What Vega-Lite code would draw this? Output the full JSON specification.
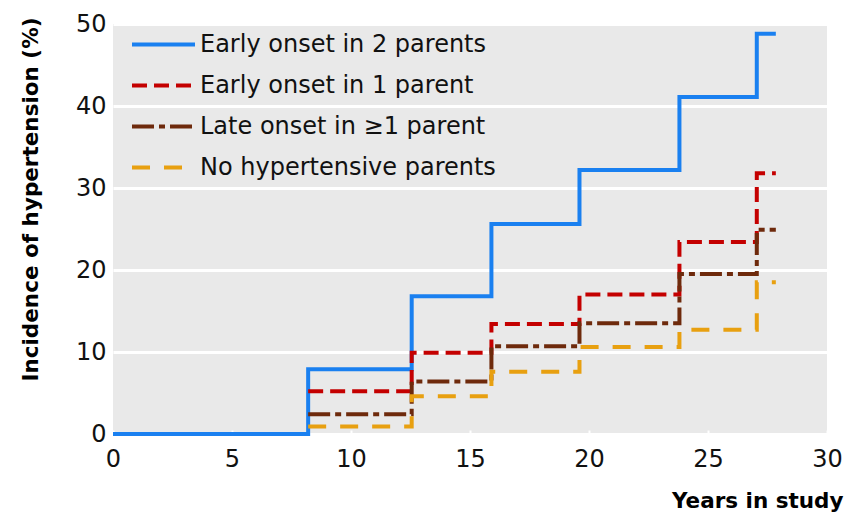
{
  "$schema": "https://vega.github.io/schema/vega-lite/v6.json",
  "width": 714,
  "height": 410,
  "autosize": "none",
  "padding": {"left": 113, "top": 24, "right": 30, "bottom": 82},
  "background": "white",
  "config": {
    "font": "DejaVu Sans",
    "view": {"fill": "#e9e9e9", "stroke": null}
  },
  "data": {
    "values": [
      {"group": "Early onset in 2 parents", "years": 0, "incidence": 0},
      {"group": "Early onset in 2 parents", "years": 8.2, "incidence": 7.9},
      {"group": "Early onset in 2 parents", "years": 12.55, "incidence": 16.8},
      {"group": "Early onset in 2 parents", "years": 15.9, "incidence": 25.6},
      {"group": "Early onset in 2 parents", "years": 19.6, "incidence": 32.2},
      {"group": "Early onset in 2 parents", "years": 23.8, "incidence": 41.1},
      {"group": "Early onset in 2 parents", "years": 27.05, "incidence": 48.8},
      {"group": "Early onset in 2 parents", "years": 27.85, "incidence": 48.8},
      {"group": "Early onset in 1 parent", "years": 8.2, "incidence": 5.2},
      {"group": "Early onset in 1 parent", "years": 12.55, "incidence": 9.9},
      {"group": "Early onset in 1 parent", "years": 15.9, "incidence": 13.4},
      {"group": "Early onset in 1 parent", "years": 19.6, "incidence": 17.0},
      {"group": "Early onset in 1 parent", "years": 23.8, "incidence": 23.4},
      {"group": "Early onset in 1 parent", "years": 27.05, "incidence": 31.8},
      {"group": "Early onset in 1 parent", "years": 27.85, "incidence": 31.8},
      {"group": "Late onset in ≥1 parent", "years": 8.2, "incidence": 2.4},
      {"group": "Late onset in ≥1 parent", "years": 12.55, "incidence": 6.4},
      {"group": "Late onset in ≥1 parent", "years": 15.9, "incidence": 10.7},
      {"group": "Late onset in ≥1 parent", "years": 19.6, "incidence": 13.5},
      {"group": "Late onset in ≥1 parent", "years": 23.8, "incidence": 19.5},
      {"group": "Late onset in ≥1 parent", "years": 27.05, "incidence": 24.9},
      {"group": "Late onset in ≥1 parent", "years": 27.85, "incidence": 24.9},
      {"group": "No hypertensive parents", "years": 8.2, "incidence": 0.9},
      {"group": "No hypertensive parents", "years": 12.55, "incidence": 4.6},
      {"group": "No hypertensive parents", "years": 15.9, "incidence": 7.6},
      {"group": "No hypertensive parents", "years": 19.6, "incidence": 10.6},
      {"group": "No hypertensive parents", "years": 23.8, "incidence": 12.7},
      {"group": "No hypertensive parents", "years": 27.05, "incidence": 18.5},
      {"group": "No hypertensive parents", "years": 27.85, "incidence": 18.5}
    ]
  },
  "mark": {"type": "line", "interpolate": "step-after", "strokeWidth": 4, "strokeCap": "butt"},
  "encoding": {
    "x": {
      "field": "years",
      "type": "quantitative",
      "scale": {"domain": [0, 30], "nice": false},
      "axis": {
        "values": [0, 5, 10, 15, 20, 25, 30],
        "grid": false,
        "domain": false,
        "tickColor": "white",
        "tickSize": -4,
        "tickWidth": 2,
        "labelFontSize": 24,
        "labelColor": "#111",
        "labelPadding": 17,
        "labelFlush": false,
        "title": "Years in study",
        "titleFontSize": 21.5,
        "titleFontWeight": "bold",
        "titleColor": "#000",
        "titleAlign": "right",
        "titleAnchor": null,
        "titleX": 730,
        "titleY": 73,
        "titleBaseline": "alphabetic"
      }
    },
    "y": {
      "field": "incidence",
      "type": "quantitative",
      "scale": {"domain": [0, 50], "nice": false},
      "axis": {
        "values": [0, 10, 20, 30, 40, 50],
        "grid": true,
        "gridColor": "white",
        "gridWidth": 3,
        "gridOpacity": 1,
        "domain": false,
        "ticks": false,
        "labelFontSize": 24,
        "labelColor": "#111",
        "labelPadding": 7,
        "title": "Incidence of hypertension (%)",
        "titleFontSize": 21.5,
        "titleFontWeight": "bold",
        "titleColor": "#000",
        "titleAngle": -90,
        "titleAlign": "center",
        "titleAnchor": null,
        "titleX": -76,
        "titleY": 175,
        "titleBaseline": "alphabetic"
      }
    },
    "color": {
      "field": "group",
      "type": "nominal",
      "scale": {
        "domain": ["Early onset in 2 parents", "Early onset in 1 parent", "Late onset in ≥1 parent", "No hypertensive parents"],
        "range": ["#1a80f0", "#c40000", "#6e2a0c", "#e8a010"]
      },
      "legend": {
        "title": null,
        "orient": "none",
        "legendX": 17,
        "legendY": 0,
        "padding": 0,
        "symbolType": "stroke",
        "symbolSize": 3969,
        "symbolStrokeWidth": 4,
        "labelFontSize": 24,
        "labelColor": "#111",
        "labelOffset": 3,
        "rowPadding": 0,
        "clipHeight": 41,
        "labelLimit": 400
      }
    },
    "strokeDash": {
      "field": "group",
      "type": "nominal",
      "scale": {
        "domain": ["Early onset in 2 parents", "Early onset in 1 parent", "Late onset in ≥1 parent", "No hypertensive parents"],
        "range": [[1, 0], [15, 7], [22, 5, 6, 5], [18, 14]]
      },
      "legend": null
    }
  }
}
